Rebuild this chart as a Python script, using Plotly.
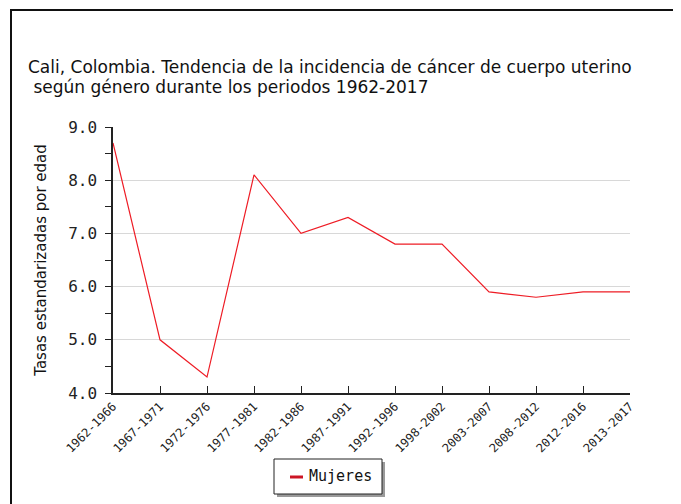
import plotly.graph_objects as go

periodos = ["1962-1966", "1967-1971", "1972-1976", "1977-1981", "1982-1986", "1987-1991",
            "1992-1996", "1998-2002", "2003-2007", "2008-2012", "2012-2016", "2013-2017"]
mujeres = [8.7, 5.0, 4.3, 8.1, 7.0, 7.3, 6.8, 6.8, 5.9, 5.8, 5.9, 5.9]
y_ticks = [4.0, 5.0, 6.0, 7.0, 8.0, 9.0]
y_tick_labels = ["4.0", "5.0", "6.0", "7.0", "8.0", "9.0"]
serie_nombre = "Mujeres"

OFF = 8  # default page body margin
W, H = 681 - OFF, 504 - OFF
L, R, T, B = 113 - OFF, 630 - OFF, 127 - OFF, 393 - OFF

def px(x):
    return (x - OFF - L) / (R - L)

def py(y):
    return (B - (y - OFF)) / (B - T)

fig = go.Figure()
fig.add_trace(go.Scatter(
    x=list(range(len(periodos))), y=mujeres, mode="lines", name=serie_nombre,
    line=dict(color="#ee1c25", width=1.2), showlegend=False,
))

mono = "DejaVu Sans Mono"
sans = "DejaVu Sans"
fig.update_layout(
    width=W, height=H,
    margin=dict(l=L, r=W - R, t=T, b=H - B, pad=0),
    paper_bgcolor="white", plot_bgcolor="white",
    showlegend=False,
    xaxis=dict(
        range=[0, len(periodos) - 1],
        tickmode="array", tickvals=list(range(len(periodos))), ticktext=periodos,
        tickangle=-45, ticks="inside", ticklen=7, tickcolor="#222",
        showline=True, linecolor="#222", linewidth=1.5,
        showgrid=False, zeroline=False,
        tickfont=dict(family=mono, size=12, color="#222"),
    ),
    yaxis=dict(
        range=[4, 9],
        tickmode="array", tickvals=y_ticks, ticktext=y_tick_labels,
        ticks="outside", ticklen=6, tickcolor="#222", ticklabelstandoff=5,
        minor=dict(tickvals=[4.5, 5.5, 6.5, 7.5, 8.5], ticks="outside", ticklen=6,
                   tickcolor="#222", showgrid=False),
        showline=True, linecolor="#222", linewidth=1.5,
        showgrid=True, gridcolor="#d8d8d8", gridwidth=1,
        zeroline=False,
        tickfont=dict(family=mono, size=16, color="#222"),
        title=dict(text="Tasas estandarizadas por edad", standoff=18,
                   font=dict(family=sans, size=15, color="#111")),
    ),
    annotations=[
        dict(xref="paper", yref="paper", x=px(26), y=py(79), xanchor="left", yanchor="bottom",
             showarrow=False, text="Cali, Colombia. Tendencia de la incidencia de cáncer de cuerpo uterino",
             font=dict(family=sans, size=17, color="#111")),
        dict(xref="paper", yref="paper", x=px(26), y=py(99), xanchor="left", yanchor="bottom",
             showarrow=False, text=" según género durante los periodos 1962-2017",
             font=dict(family=sans, size=17, color="#111")),
        dict(xref="paper", yref="paper", x=px(307), y=py(476), xanchor="left", yanchor="middle",
             showarrow=False, text=serie_nombre,
             font=dict(family=mono, size=15, color="#111")),
    ],
    shapes=[
        dict(type="rect", xref="paper", yref="paper",
             x0=px(11), x1=px(678), y0=py(520), y1=py(10),
             line=dict(color="#111", width=2), layer="below"),
        # legend shadow and box
        dict(type="rect", xref="paper", yref="paper",
             x0=px(277), x1=px(385), y0=py(497), y1=py(462),
             line=dict(width=0), fillcolor="#9a9a9a", layer="above"),
        dict(type="rect", xref="paper", yref="paper",
             x0=px(274), x1=px(382), y0=py(494), y1=py(459),
             line=dict(color="#222", width=1), fillcolor="white", layer="above"),
        dict(type="line", xref="paper", yref="paper",
             x0=px(290), x1=px(303), y0=py(477), y1=py(477),
             line=dict(color="#cc1525", width=3), layer="above"),
    ],
)

fig.write_html("out.html")
